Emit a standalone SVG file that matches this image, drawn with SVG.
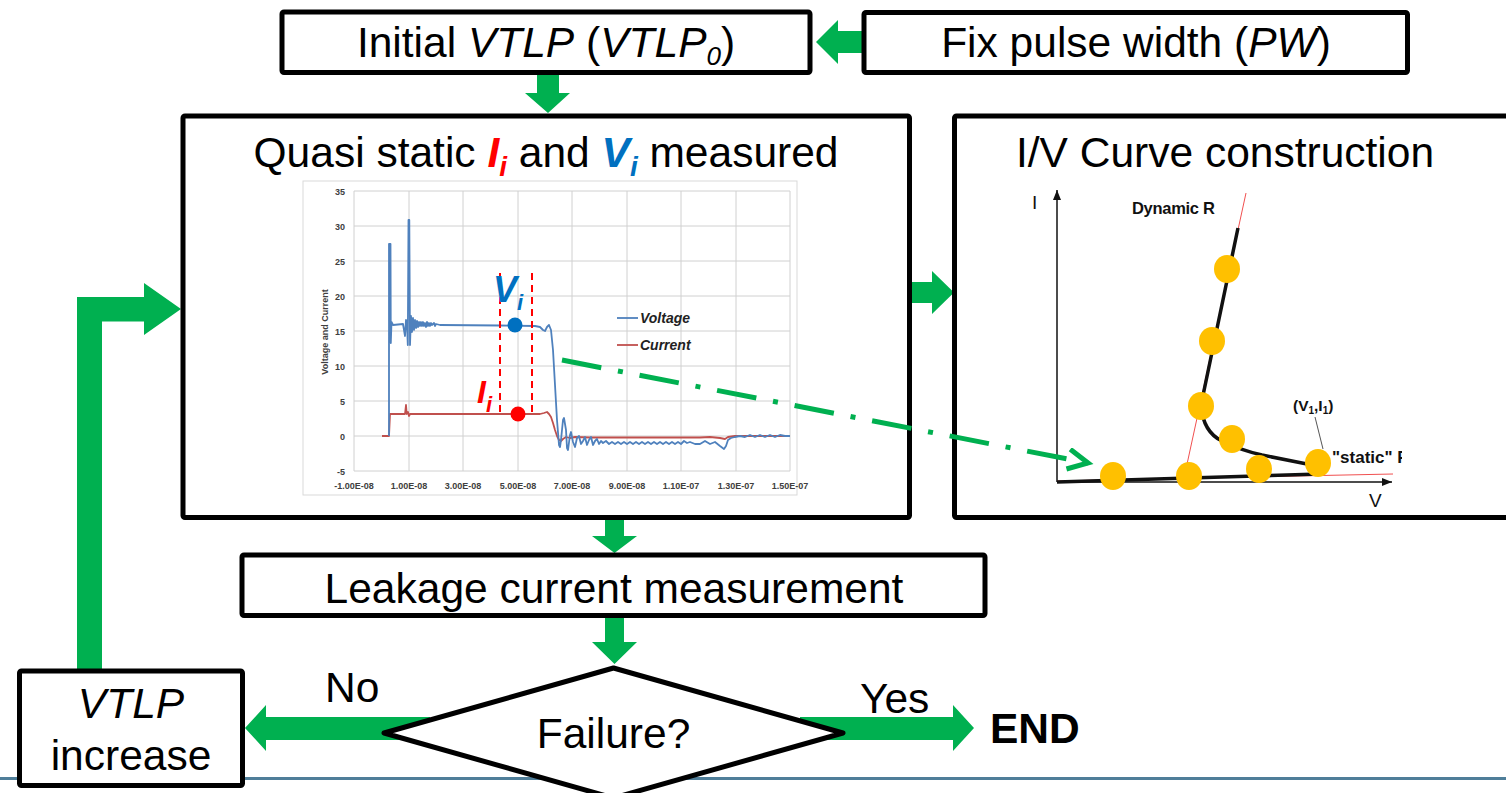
<svg xmlns="http://www.w3.org/2000/svg" width="1506" height="793" viewBox="0 0 1506 793">
<style>
.box{fill:#fff;stroke:#000;stroke-width:5}
.arr{fill:#00B050}
.t{font-family:"Liberation Sans",Arial,sans-serif;font-size:42.5px;fill:#000}
.tick{font-family:"Liberation Sans",Arial,sans-serif;font-size:9px;font-weight:bold;fill:#404040}
.grid{stroke:#D0D0D0;stroke-width:1;fill:none}
.dot{fill:#FFC000}
.iv{font-family:"Liberation Sans",Arial,sans-serif;fill:#111}
</style>
<defs>
<marker id="chev" markerUnits="userSpaceOnUse" markerWidth="30" markerHeight="30" refX="22" refY="12" orient="auto" viewBox="0 0 30 30">
<path d="M2,2 L22,12 L2,22" fill="none" stroke="#00B050" stroke-width="5"/>
</marker>
<marker id="ax" markerUnits="userSpaceOnUse" markerWidth="12" markerHeight="10" refX="10" refY="4" orient="auto" viewBox="0 0 12 10">
<path d="M0,0 L10,4 L0,8 Z" fill="#111"/>
</marker>
<clipPath id="ivclip"><rect x="1000" y="170" width="402" height="345"/></clipPath>
</defs>
<rect width="1506" height="793" fill="#fff"/>
<line x1="0" y1="778.5" x2="1506" y2="778.5" stroke="#4F7E99" stroke-width="3"/>

<g id="connectors">
<polygon class="arr" points="862,31 838,31 838,20 816,42 838,64 838,53 862,53"/>
<polygon class="arr" points="537,75 559,75 559,93 570,93 548,113 525,93 537,93"/>
<polygon class="arr" points="912,282 932,282 932,271 954,292.5 932,314 932,303 912,303"/>
<polygon class="arr" points="605,520 624,520 624,536 637,536 614.5,553 592,536 605,536"/>
<polygon class="arr" points="605,618 624,618 624,642 637,642 614.5,664 592,642 605,642"/>
<polygon class="arr" points="77,669 77,297 144,297 144,283 181,309 144,335 144,321.5 102,321.5 102,669"/>
<polygon class="arr" points="430,717 266,717 266,705 245,728 266,751 266,740 430,740"/>
<polygon class="arr" points="800,717 953,717 953,705 974,728 953,751 953,740 800,740"/>
</g>

<g id="node-initial">
<rect class="box" x="282" y="12" width="528" height="60.5" rx="2"/>
<text class="t" x="546" y="57" text-anchor="middle">Initial <tspan font-style="italic">VTLP</tspan> (<tspan font-style="italic">VTLP<tspan font-size="26" dy="8">0</tspan></tspan><tspan dy="-8">)</tspan></text>
</g>

<g id="node-fix">
<rect class="box" x="864" y="12.5" width="543.5" height="60" rx="2"/>
<text class="t" x="1136" y="57" text-anchor="middle">Fix pulse width (<tspan font-style="italic">PW</tspan>)</text>
</g>

<g id="node-quasi">
<rect class="box" x="183" y="116" width="726.5" height="401.5" rx="2"/>
<text class="t" x="546" y="167" text-anchor="middle">Quasi static <tspan fill="#FF0000" font-weight="bold" font-style="italic">I<tspan font-size="28" dy="9">i</tspan></tspan><tspan dy="-9"> and </tspan><tspan fill="#0070C0" font-weight="bold" font-style="italic">V<tspan font-size="28" dy="9">i</tspan></tspan><tspan dy="-9"> measured</tspan></text>
<g id="chart">
<rect x="303" y="181" width="494" height="314" fill="#fff" stroke="#D9D9D9" stroke-width="1"/>
<g class="grid">
<path d="M354,191H790M354,226H790M354,261H790M354,296H790M354,331H790M354,366H790M354,401H790M354,436H790M354,471H790"/>
<path d="M354,191V471M409,191V471M463,191V471M518,191V471M572,191V471M627,191V471M681,191V471M736,191V471M790,191V471"/>
</g>
<g class="tick" text-anchor="end">
<text x="345" y="194.5">35</text><text x="345" y="229.5">30</text><text x="345" y="264.5">25</text><text x="345" y="299.5">20</text><text x="345" y="334.5">15</text><text x="345" y="369.5">10</text><text x="345" y="404.5">5</text><text x="345" y="439.5">0</text><text x="345" y="474.5">-5</text>
</g>
<g class="tick" text-anchor="middle">
<text x="354" y="489">-1.00E-08</text><text x="409" y="489">1.00E-08</text><text x="463" y="489">3.00E-08</text><text x="518" y="489">5.00E-08</text><text x="572" y="489">7.00E-08</text><text x="627" y="489">9.00E-08</text><text x="681" y="489">1.10E-07</text><text x="736" y="489">1.30E-07</text><text x="790" y="489">1.50E-07</text>
</g>
<text class="tick" transform="translate(328,332) rotate(-90)" text-anchor="middle">Voltage and Current</text>
<path fill="none" stroke="#C0504D" stroke-width="1.8" stroke-linejoin="round" d="M382,436 L389,436 L390,414 L405,414 L406,405 L406.7,414 L408,412 L409,416 L410,414 L540,414 L544,413 L547,412 L549,414 L551,417 L553,423 L555,430 L557,436 L559,440 L561,441 L563,439 L566,437 L570,438 L575,437 L590,437.5 L700,437.5 L710,437 L720,438 L725,439 L728,437 L735,436 L790,436"/>
<path fill="none" stroke="#4F81BD" stroke-width="1.8" stroke-linejoin="round" d="M389,436 L389,244 L390.5,244 L390.8,343 L391.5,322 L393,325 L403,324 L404,330 L405,336 L406,320 L407,324 L407.8,345 L408.5,220 L409.3,220 L410,345 L411,316 L412,332 L413,318 L414,330 L415,320 L416,328 L417,321 L418,327 L419,322 L420,326 L421,322 L422,326 L423,322 L424,326 L425,323 L426,327 L427,322 L428,326 L429,323 L430,326 L431,323 L432,325 L434,323 L435,326 L436,324 L440,325 L500,325.5 L535,326 L540,327 L543,330 L545,331 L547,327 L549,325 L551,330 L553,350 L555,385 L557,420 L559,445 L560,447 L561,440 L563,420 L564,418 L566,430 L567,448 L568,450 L570,435 L571,432 L573,442 L575,447 L577,438 L579,436 L581,444 L583,441 L585,437 L587,445 L589,440 L591,437 L593,445 L595,441 L597,439 L599,444 L601,441 L603,443 L606,441 L609,444 L612,442 L615,444 L618,442 L621,444 L624,442 L627,444 L630,442 L633,444 L636,442 L639,444 L642,442 L645,444 L648,442 L651,444 L654,442 L657,444 L660,442 L663,444 L666,442 L669,444 L672,442 L675,444 L678,442 L681,444 L684,441 L687,443 L690,442 L695,444 L700,444 L705,441 L710,444 L715,442 L720,446 L724,449 L726,446 L728,440 L731,438 L735,437 L740,436 L745,437 L750,435 L755,437 L760,435 L765,437 L770,435 L775,437 L780,435 L785,436 L790,436"/>
<line x1="617" y1="318" x2="638" y2="318" stroke="#4F81BD" stroke-width="1.8"/>
<line x1="617" y1="345" x2="638" y2="345" stroke="#C0504D" stroke-width="1.8"/>
<text x="640" y="323" font-family="Liberation Sans,Arial,sans-serif" font-size="14" font-style="italic" font-weight="bold" fill="#222">Voltage</text>
<text x="640" y="350" font-family="Liberation Sans,Arial,sans-serif" font-size="14" font-style="italic" font-weight="bold" fill="#222">Current</text>
<path d="M500,273V412M532,273V412" stroke="#FF0000" stroke-width="2" stroke-dasharray="7,5" fill="none"/>
<text x="493" y="302" font-family="Liberation Sans,Arial,sans-serif" font-size="36" font-weight="bold" font-style="italic" fill="#0070C0">V<tspan font-size="22" dy="8">i</tspan></text>
<text x="477" y="403" font-family="Liberation Sans,Arial,sans-serif" font-size="32" font-weight="bold" font-style="italic" fill="#FF0000">I<tspan font-size="22" dy="9">i</tspan></text>
<circle cx="515" cy="325" r="7.5" fill="#0070C0"/>
<circle cx="518" cy="414" r="7.5" fill="#FF0000"/>
</g>
</g>

<g id="node-iv">
<rect class="box" x="954.5" y="116" width="570" height="401.5" rx="2"/>
<text class="t" x="1225" y="167" text-anchor="middle" font-size="45.5">I/V Curve construction</text>
<g clip-path="url(#ivclip)">
<line x1="1057" y1="482" x2="1057" y2="190" stroke="#111" stroke-width="1.5" marker-end="url(#ax)"/>
<line x1="1057" y1="482" x2="1392" y2="482" stroke="#111" stroke-width="1.5" marker-end="url(#ax)"/>
<line x1="1246" y1="193" x2="1184" y2="478" stroke="#F05050" stroke-width="1"/>
<line x1="1057" y1="481" x2="1393" y2="474" stroke="#F05050" stroke-width="1"/>
<path d="M1057,482 L1320,474" stroke="#111" stroke-width="3.5" fill="none"/>
<path d="M1238,228 L1201,405 Q1203,432 1222,441 Q1240,450 1262,455 L1307,464" stroke="#111" stroke-width="3.5" fill="none"/>
<line x1="1315" y1="417" x2="1323" y2="449" stroke="#555" stroke-width="1"/>
<ellipse class="dot" cx="1227" cy="269" rx="13" ry="14"/>
<ellipse class="dot" cx="1212" cy="341" rx="13" ry="14"/>
<ellipse class="dot" cx="1201" cy="406" rx="13" ry="14"/>
<ellipse class="dot" cx="1232" cy="439" rx="13" ry="14"/>
<ellipse class="dot" cx="1259" cy="469" rx="13" ry="14"/>
<ellipse class="dot" cx="1318" cy="463" rx="13" ry="14"/>
<ellipse class="dot" cx="1113" cy="476" rx="13" ry="14"/>
<ellipse class="dot" cx="1189" cy="476" rx="13" ry="14"/>
<text class="iv" x="1032" y="209" font-size="19">I</text>
<text class="iv" x="1369" y="507" font-size="19">V</text>
<text class="iv" x="1132" y="214" font-size="16.5" font-weight="bold" letter-spacing="-0.3">Dynamic R</text>
<text class="iv" x="1293" y="411" font-size="15.5" font-weight="bold">(V<tspan font-size="10" dy="3">1</tspan><tspan dy="-3">,I</tspan><tspan font-size="10" dy="3">1</tspan><tspan dy="-3">)</tspan></text>
<text class="iv" x="1332" y="463" font-size="17" font-weight="bold">"static" R</text>
</g>
</g>

<g id="node-leakage">
<rect class="box" x="242" y="555" width="743" height="60.5" rx="2"/>
<text class="t" x="614" y="603" text-anchor="middle">Leakage current measurement</text>
</g>

<g id="node-failure">
<polygon points="613.5,668 843,733 613.5,798 384,733" fill="#fff" stroke="#000" stroke-width="5" stroke-linejoin="round"/>
<text class="t" x="613.5" y="748" text-anchor="middle">Failure?</text>
</g>

<g id="node-vtlp">
<rect class="box" x="19.5" y="671" width="223" height="114.5" rx="2"/>
<text class="t" x="131" y="718" text-anchor="middle" font-style="italic">VTLP</text>
<text class="t" x="131" y="770" text-anchor="middle">increase</text>
</g>

<g id="labels">
<text class="t" x="325" y="702" font-size="35">No</text>
<text class="t" x="860" y="713" font-size="35">Yes</text>
<text class="t" x="990" y="743" font-weight="bold">END</text>
</g>

<g id="dashdot">
<line x1="562" y1="360" x2="1088" y2="463" stroke="#00B050" stroke-width="5" stroke-dasharray="40 17 5 17" marker-end="url(#chev)"/>
</g>
</svg>
